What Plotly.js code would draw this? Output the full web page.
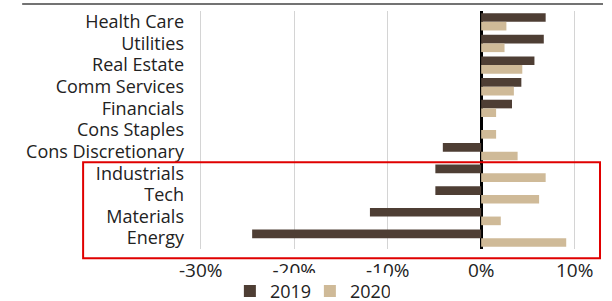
<!DOCTYPE html>
<html><head><meta charset="utf-8">
<script src="https://cdn.plot.ly/plotly-3.0.1.min.js"></script>
<style>html,body{margin:0;padding:0;background:#fff}#c{width:612px;height:301px}</style>
</head><body><div id="c"></div>
<script>
const categories = ["Health Care","Utilities","Real Estate","Comm Services","Financials","Cons Staples","Cons Discretionary","Industrials","Tech","Materials","Energy"];
const values2019 = [6.9, 6.7, 5.7, 4.3, 3.3, 0.0, -4.1, -4.9, -4.9, -11.9, -24.5];
const values2020 = [2.7, 2.5, 4.4, 3.5, 1.6, 1.6, 3.9, 6.9, 6.2, 2.1, 9.1];
const tickVals = [-30, -20, -10, 0, 10];
const tickText = ["-30%", "-20%", "-10%", "0%", "10%"];

const font = "Open Sans, sans-serif";
const traces = [
  {type:"bar", orientation:"h", name:"2019", y:categories, x:values2019.map(v=>v/100), marker:{color:"#4E3E34"}},
  {type:"bar", orientation:"h", name:"2020", y:categories, x:values2020.map(v=>v/100), marker:{color:"#CFBA98"}}
];
const layout = {
  width:612, height:301,
  margin:{l:197, r:14, t:11, b:52, autoexpand:false},
  barmode:"group", bargap:0.2, bargroupgap:0,
  paper_bgcolor:"#fff", plot_bgcolor:"#fff",
  font:{family:font, color:"#222"},
  xaxis:{range:[-0.304,0.125], tickvals:tickVals.map(v=>v/100), ticktext:tickText,
         showgrid:true, gridcolor:"#d4d4d4", gridwidth:1,
         zeroline:true, zerolinecolor:"#000", zerolinewidth:3,
         tickfont:{size:19, color:"#222"}, ticks:"", showline:false, fixedrange:true,
         automargin:false, ticklabelstandoff:8},
  yaxis:{autorange:"reversed", tickmode:"array", tickvals:categories, ticktext:categories,
         tickfont:{size:18, color:"#222"}, ticks:"", showgrid:false, fixedrange:true,
         automargin:false, ticklabelstandoff:12},
  showlegend:true,
  legend:{orientation:"h", x:0.082, xanchor:"left", y:-0.178, yanchor:"middle",
          font:{size:18, color:"#222"}, entrywidth:35, entrywidthmode:"pixels", tracegroupgap:0},
  shapes:[
    {type:"line", xref:"paper", yref:"paper", x0:-0.436, x1:1.0125, y0:1.0294, y1:1.0294, line:{color:"#444", width:1.5}},
    {type:"rect", xref:"paper", yref:"paper", x0:-0.284, x1:1.005, y0:-0.039, y1:0.364, line:{color:"#e00000", width:2}}
  ]
};
Plotly.newPlot("c", traces, layout, {displayModeBar:false, staticPlot:true});
</script></body></html>
